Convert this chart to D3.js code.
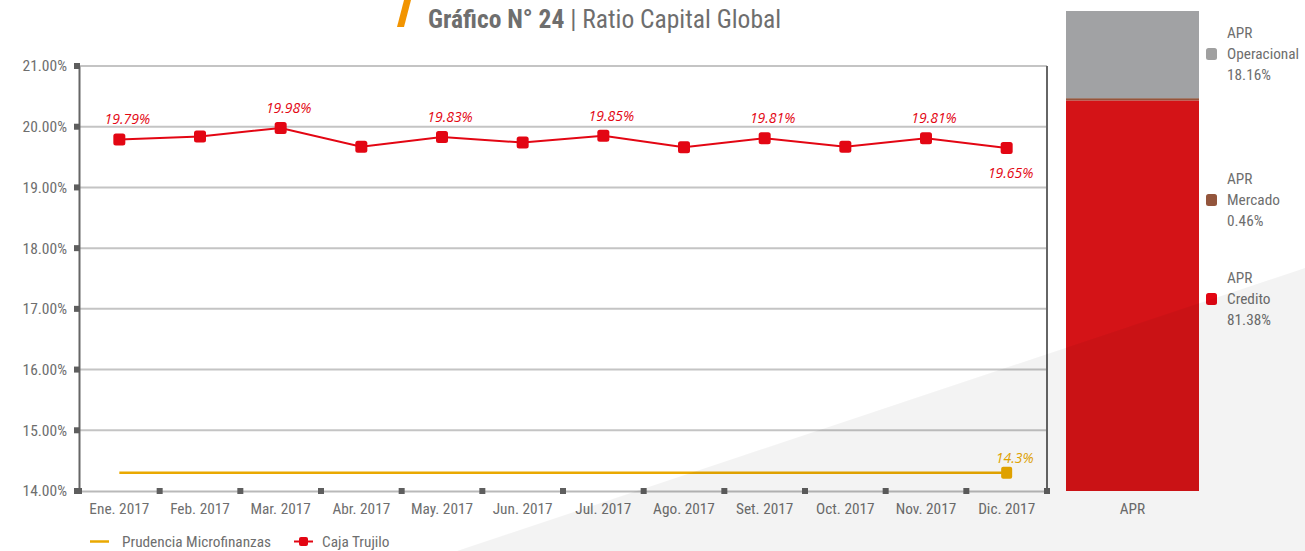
<!DOCTYPE html>
<html>
<head>
<meta charset="utf-8">
<script src="https://cdn.jsdelivr.net/npm/d3@7"></script>
<style>
  html, body { margin: 0; padding: 0; background: #ffffff; }
  svg { display: block; }
  .cond { font-family: "Roboto Condensed", "Liberation Sans Narrow", "DejaVu Sans Condensed", "Arial Narrow", sans-serif; }
  .lbl { font-family: "Open Sans", "Noto Sans", sans-serif; font-style: italic; }
</style>
</head>
<body>
<svg id="chart" width="1305" height="551"></svg>
<script>
// ---------------- data ----------------
const months = ["Ene. 2017", "Feb. 2017", "Mar. 2017", "Abr. 2017", "May. 2017", "Jun. 2017",
                "Jul. 2017", "Ago. 2017", "Set. 2017", "Oct. 2017", "Nov. 2017", "Dic. 2017"];
const cajaTrujillo = [19.79, 19.84, 19.98, 19.67, 19.83, 19.74, 19.85, 19.66, 19.81, 19.67, 19.81, 19.65];
const prudencia = [14.3, 14.3, 14.3, 14.3, 14.3, 14.3, 14.3, 14.3, 14.3, 14.3, 14.3, 14.3];
const labelledMonths = ["Ene. 2017", "Mar. 2017", "May. 2017", "Jul. 2017", "Set. 2017", "Nov. 2017", "Dic. 2017"];
const yTicks = [14, 15, 16, 17, 18, 19, 20, 21];
const seriesNames = ["Prudencia Microfinanzas", "Caja Trujilo"];

const aprCategory = ["APR"];
const aprParts = ["Credito", "Mercado", "Operacional"];
const aprValues = [81.38, 0.46, 18.16];

const titleBold = "Gráfico N° 24";
const titleRest = " | Ratio Capital Global";

// ---------------- styles ----------------
const C = {
  text: "#6e6e6e", red: "#e30613", yellow: "#eaa900", grid: "#c4c4c4", axis: "#666666",
  tickSq: "#5e5e5e", xAxis: "#b9b9b9", orange: "#f29400",
  apr: { Credito: "#d41317", Mercado: "#93553c", Operacional: "#a1a2a4" },
  aprLegend: { Credito: "#e30613", Mercado: "#93553c", Operacional: "#a0a0a0" }
};

const svg = d3.select("#chart");

// scales
const x = d3.scaleBand().domain(months).range([79, 1047]).padding(0);
const y = d3.scaleLinear().domain([14, 21]).range([491, 66]);
const xc = d => x(d) + x.bandwidth() / 2;

// ---------------- grid ----------------
svg.append("g").selectAll("line").data(yTicks.filter(t => t > 14)).join("line")
  .attr("x1", 79).attr("x2", 1047).attr("y1", d => y(d)).attr("y2", d => y(d))
  .attr("stroke", C.grid).attr("stroke-width", 2);

// x axis (light line + labels)
const gx = svg.append("g").attr("transform", `translate(0,${y(14)})`)
  .call(d3.axisBottom(x).tickSize(0).tickPadding(12));
gx.select(".domain").attr("stroke", C.xAxis).attr("stroke-width", 2);
gx.selectAll("text").attr("class", "cond").attr("font-size", 15.3).attr("fill", C.text);

// y axis
const gy = svg.append("g").attr("transform", "translate(79,0)")
  .call(d3.axisLeft(y).tickValues(yTicks).tickFormat(d => d.toFixed(2) + "%").tickSize(0).tickPadding(12));
gy.select(".domain").attr("stroke", C.axis).attr("stroke-width", 2);
gy.selectAll("text").attr("class", "cond").attr("font-size", 15.5).attr("fill", C.text);

// right border
svg.append("line").attr("x1", 1047).attr("x2", 1047).attr("y1", y(21)).attr("y2", y(14))
  .attr("stroke", C.axis).attr("stroke-width", 2);

// tick squares
const xTickPos = months.map(m => x(m)).concat([x.range()[1]]);
svg.append("g").selectAll("rect").data(xTickPos).join("rect")
  .attr("x", d => d - 3).attr("y", y(14) - 3).attr("width", 6).attr("height", 6).attr("fill", C.tickSq);
svg.append("g").selectAll("rect").data(yTicks).join("rect")
  .attr("x", 74).attr("y", d => y(d) - 3).attr("width", 6).attr("height", 6).attr("fill", C.tickSq);

// ---------------- series ----------------
const line = d3.line().x(d => xc(d.m)).y(d => y(d.v));
const prudData = months.map((m, i) => ({ m, v: prudencia[i] }));
const cajaData = months.map((m, i) => ({ m, v: cajaTrujillo[i] }));

svg.append("path").datum(prudData).attr("d", line)
  .attr("fill", "none").attr("stroke", C.yellow).attr("stroke-width", 2.5);
const lastP = prudData[prudData.length - 1];
svg.append("rect").attr("x", xc(lastP.m) - 5.5).attr("y", y(lastP.v) - 6).attr("width", 11).attr("height", 12)
  .attr("rx", 2).attr("fill", C.yellow);
svg.append("text").attr("class", "lbl").attr("x", xc(lastP.m) + 8).attr("y", y(lastP.v) - 10)
  .attr("text-anchor", "middle").attr("font-size", 14).attr("fill", C.yellow)
  .text(lastP.v.toFixed(1) + "%");

svg.append("path").datum(cajaData).attr("d", line)
  .attr("fill", "none").attr("stroke", C.red).attr("stroke-width", 2);
svg.append("g").selectAll("rect").data(cajaData).join("rect")
  .attr("x", d => xc(d.m) - 6).attr("y", d => y(d.v) - 6).attr("width", 12).attr("height", 12)
  .attr("rx", 2.5).attr("fill", C.red);
svg.append("g").selectAll("text").data(cajaData.filter(d => labelledMonths.includes(d.m))).join("text")
  .attr("class", "lbl")
  .attr("x", d => xc(d.m) + (d.m === months[months.length - 1] ? 4 : 8))
  .attr("y", d => d.m === months[months.length - 1] ? y(d.v) + 30 : y(d.v) - 15)
  .attr("text-anchor", "middle").attr("font-size", 14).attr("fill", C.red)
  .text(d => d.v.toFixed(2) + "%");

// ---------------- stacked APR bar ----------------
const xb = d3.scaleBand().domain(aprCategory).range([1066, 1199]).padding(0);
const yb = d3.scaleLinear().domain([0, 100]).range([491, 11]);
const stackRow = {};
aprParts.forEach((p, i) => stackRow[p] = aprValues[i]);
const stacked = d3.stack().keys(aprParts)([stackRow]);
svg.append("g").selectAll("rect").data(stacked).join("rect")
  .attr("x", xb("APR")).attr("width", xb.bandwidth())
  .attr("y", d => yb(d[0][1])).attr("height", d => yb(d[0][0]) - yb(d[0][1]))
  .attr("fill", d => C.apr[d.key]);
const gxb = svg.append("g").attr("transform", `translate(0,${yb(0)})`)
  .call(d3.axisBottom(xb).tickSize(0).tickPadding(12));
gxb.select(".domain").remove();
gxb.selectAll("text").attr("class", "cond").attr("font-size", 15.3).attr("fill", C.text);

// right legend
const legendY = { Operacional: 59, Mercado: 205, Credito: 304 };
const lg = svg.append("g").selectAll("g").data(aprParts).join("g")
  .attr("transform", d => `translate(1206,${legendY[d]})`);
lg.append("rect").attr("x", 0).attr("y", -11).attr("width", 11).attr("height", 12).attr("rx", 2.5)
  .attr("fill", d => C.aprLegend[d]);
lg.append("text").attr("class", "cond").attr("x", 21).attr("y", -21).attr("font-size", 15.3).attr("fill", C.text)
  .text("APR");
lg.append("text").attr("class", "cond").attr("x", 21).attr("y", 0).attr("font-size", 15.3).attr("fill", C.text)
  .text(d => d);
lg.append("text").attr("class", "cond").attr("x", 21).attr("y", 21).attr("font-size", 15.3).attr("fill", C.text)
  .text((d, i) => aprValues[i].toFixed(2) + "%");

// bottom legend
const bl = svg.append("g");
bl.append("line").attr("x1", 90).attr("x2", 109).attr("y1", 541.5).attr("y2", 541.5)
  .attr("stroke", C.yellow).attr("stroke-width", 2.5);
bl.append("text").attr("class", "cond").attr("x", 122).attr("y", 547).attr("font-size", 15.3).attr("fill", C.text)
  .text(seriesNames[0]);
bl.append("line").attr("x1", 294).attr("x2", 313).attr("y1", 541.5).attr("y2", 541.5)
  .attr("stroke", C.red).attr("stroke-width", 2);
bl.append("rect").attr("x", 299).attr("y", 537).attr("width", 9).attr("height", 9).attr("rx", 2).attr("fill", C.red);
bl.append("text").attr("class", "cond").attr("x", 322).attr("y", 547).attr("font-size", 15.3).attr("fill", C.text)
  .text(seriesNames[1]);

// title
svg.append("polygon").attr("points", "404,0 411,0 404,27 397,27").attr("fill", C.orange);
const t = svg.append("text").attr("class", "cond").attr("x", 428).attr("y", 28).attr("font-size", 25.5).attr("fill", C.text);
t.append("tspan").attr("font-weight", "bold").text(titleBold);
t.append("tspan").text(titleRest);

// decorative light background wedge (overlay)
svg.append("polygon").attr("points", "457,551 1305,268 1305,551")
  .attr("fill", "#000").attr("fill-opacity", 0.048).attr("pointer-events", "none");
</script>
</body>
</html>
